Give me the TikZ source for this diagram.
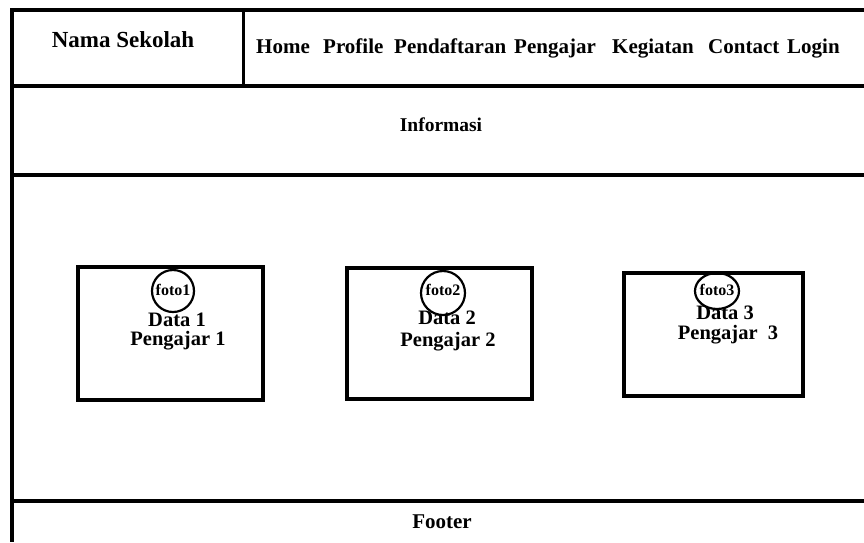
\documentclass[tikz,border=0pt]{standalone}
\usepackage{fontspec}
\setmainfont{Liberation Serif}
\usetikzlibrary{shapes.geometric}
\begin{document}
\begin{tikzpicture}[x=1pt,y=-1pt,
  frame/.style={line width=4pt},
  thin frame/.style={line width=3pt},
  card/.style={draw,line width=4pt,rectangle,inner sep=0pt},
  photo/.style={draw,line width=2.2pt,ellipse,inner sep=0pt},
  lbl/.style={font=\fontsize{#1}{#1}\selectfont\bfseries,inner sep=0pt},
  lbl/.default=20]
\useasboundingbox (0,0) rectangle (864,542);
% page frame
\draw[frame] (10,10) -- (864,10);
\draw[frame] (12,8) -- (12,542);
\draw[frame] (12,86) -- (864,86);
\draw[thin frame] (243,10) -- (243,86);
\draw[frame] (12,175) -- (864,175);
\draw[frame] (12,501) -- (864,501);
% header
\node[lbl=23] (nama) at (123,40) {Nama Sekolah};
\node[lbl=21, anchor=base west] (home) at (256,53) {Home};
\node[lbl=21, anchor=base west] (profile) at (323,53) {Profile};
\node[lbl=21, anchor=base west] (daftar) at (394,53) {Pendaftaran};
\node[lbl=21, anchor=base west] (ajar) at (514,53) {Pengajar};
\node[lbl=21, anchor=base west] (giat) at (612,53) {Kegiatan};
\node[lbl=21, anchor=base west] (contact) at (708,53) {Contact};
\node[lbl=21, anchor=base west] (login) at (787,53) {Login};
% informasi
\node[lbl=19.5] (info) at (441,125) {Informasi};
% cards
\node[card, minimum width=185pt, minimum height=133pt] (card1) at (170.5,333.5) {};
\node[card, minimum width=185pt, minimum height=131pt] (card2) at (439.5,333.5) {};
\node[card, minimum width=179pt, minimum height=123pt] (card3) at (713.5,334.5) {};
\node[photo, minimum width=42pt, minimum height=42pt] (p1) at (173,291) {};
\node[photo, minimum width=44pt, minimum height=44pt] (p2) at (443,293) {};
\node[photo, minimum width=44pt, minimum height=36pt] (p3) at (717,291) {};
\node[lbl=16] (f1) at (173,290) {foto1};
\node[lbl=16] (f2) at (443,290) {foto2};
\node[lbl=16] (f3) at (717,290) {foto3};
\node[lbl=20.5] (d1) at (177,320) {Data 1};
\node[lbl=20.5] (g1) at (178,341) {Pengajar 1};
\node[lbl=20.5] (d2) at (447,318) {Data 2};
\node[lbl=20.5] (g2) at (448,342) {Pengajar 2};
\node[lbl=20.5] (d3) at (725,313) {Data 3};
\node[lbl=20.5] (g3) at (728,335) {Pengajar\ \ 3};
% footer
\node[lbl=21] (footer) at (442,522) {Footer};
\end{tikzpicture}
\end{document}
